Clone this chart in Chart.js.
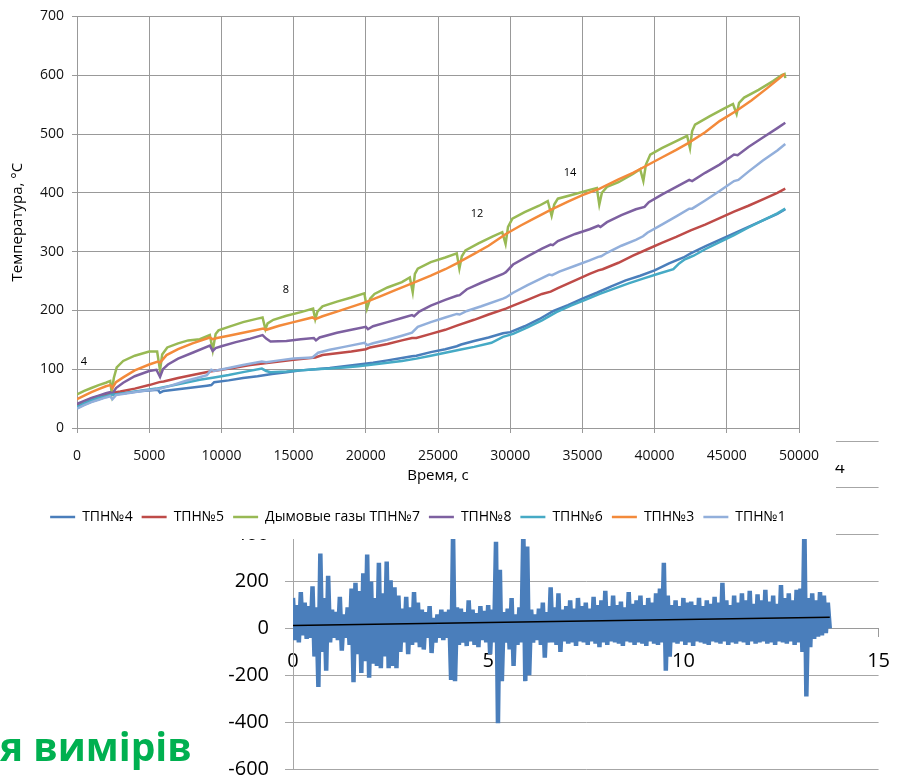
<!DOCTYPE html>
<html><head><meta charset="utf-8">
<script src="https://cdn.jsdelivr.net/npm/chart.js@4.4.1/dist/chart.umd.min.js"></script>
<style>
html,body{margin:0;padding:0;background:#fff;width:903px;height:779px;overflow:hidden;position:relative;}
#lowerCanvas{position:absolute;left:0;top:0;}
#upperCanvas{position:absolute;left:0;top:0;background:#fff;}
#greenText{position:absolute;left:0;top:719px;font:bold 39px "Open Sans";color:#00b050;white-space:nowrap;line-height:normal;}
#frag{position:absolute;left:835px;top:465px;width:10px;height:16px;overflow:hidden;}
#frag span{position:absolute;left:0;top:-10px;font:17px "Open Sans";color:#000;}
</style>
</head><body>
<canvas id="lowerCanvas" width="903" height="797"></canvas>
<canvas id="upperCanvas" width="836" height="539"></canvas>
<div id="greenText">я вимірів</div>
<div id="frag"><span>4</span></div>
<script>
// ---------- upper chart data ----------
const seriesNames = ['ТПН№4','ТПН№5','Дымовые газы ТПН№7','ТПН№8','ТПН№6','ТПН№3','ТПН№1'];
const seriesColors = ['#4a7ebb','#be4b48','#98b954','#7d60a0','#46aac5','#f38a3b','#92afdb'];

const tpn4 = [[0,34],[500,40],[1000,45],[1500,49],[2000,53],[2300,56],[2600,57],[3500,60],[4500,63],[5600,65],[5750,60],[6000,63],[7000,66],[8000,69],[9000,72],[9300,73],[9500,78],[10500,81],[11500,85],[12500,88],[13500,92],[14500,95],[15500,98],[16500,100],[17500,102],[18500,105],[19500,108],[20500,111],[21500,115],[22500,119],[23200,122],[23500,123],[24500,129],[25500,134],[26300,139],[26600,142],[27500,148],[28500,154],[29500,161],[30000,163],[31000,173],[32000,185],[33000,199],[34000,209],[35000,220],[36000,230],[37000,241],[38000,251],[39000,259],[40000,268],[41000,280],[42000,290],[42500,297],[43500,309],[44500,320],[45500,331],[46500,342],[47500,353],[48500,364],[49050,372]];
const tpn5 = [[0,39],[500,45],[1000,50],[1500,54],[2000,57],[2300,59],[3000,62],[4000,67],[5000,73],[5700,78],[6000,79],[7000,85],[8000,90],[9200,96],[10000,99],[11000,103],[12000,107],[13000,110],[14000,113],[15000,116],[16500,120],[17000,124],[18000,127],[19000,130],[20000,134],[20300,137],[21500,143],[22500,149],[23200,153],[23500,153],[24500,160],[25500,167],[26300,174],[27500,184],[28500,193],[29700,203],[30200,208],[31200,218],[32200,228],[32800,232],[33300,238],[34500,251],[35500,262],[36100,268],[36400,270],[37500,281],[38500,293],[39500,304],[40500,315],[41500,325],[42500,336],[43500,346],[44500,357],[45500,368],[46500,378],[47500,389],[48500,400],[49050,407]];
const tpn7 = [[0,57],[500,63],[1000,68],[1500,73],[2000,77],[2300,80],[2400,60],[2550,85],[2750,103],[3200,114],[4000,123],[5000,130],[5550,130],[5750,98],[5900,125],[6250,137],[7000,144],[7700,149],[8500,151],[9200,158],[9400,132],[9600,160],[9800,166],[10500,172],[11500,180],[12500,186],[12850,188],[13050,168],[13200,178],[13600,184],[14500,191],[15500,197],[16350,203],[16500,185],[16650,198],[17000,207],[18000,215],[19000,222],[19900,229],[20080,203],[20300,220],[20600,228],[21500,239],[22500,248],[23050,256],[23250,231],[23400,262],[23600,271],[24500,282],[25500,290],[26300,297],[26480,271],[26650,292],[26900,302],[27800,314],[28800,326],[29450,333],[29680,313],[29850,342],[30150,356],[31000,367],[32000,378],[32600,386],[32870,361],[33050,380],[33300,390],[34500,398],[35500,405],[36000,408],[36170,380],[36350,400],[36700,410],[37500,418],[38500,432],[39000,440],[39220,420],[39400,448],[39700,465],[40500,476],[41500,488],[42250,497],[42450,476],[42600,505],[42800,516],[43800,530],[44800,543],[45430,551],[45680,534],[45850,553],[46200,562],[47200,575],[48200,590],[48800,600],[49000,602],[49050,595]];
const tpn8 = [[0,41],[500,46],[1000,51],[1500,55],[2000,59],[2300,61],[2450,58],[2700,68],[3200,77],[4000,88],[5000,97],[5500,99],[5750,87],[5950,100],[6300,108],[7000,118],[8000,128],[9200,140],[9400,131],[9600,136],[10000,139],[11000,146],[12000,152],[12850,158],[13100,152],[13400,147],[14500,148],[15500,151],[16400,153],[16550,149],[16800,154],[18000,162],[19000,167],[20000,172],[20150,168],[20500,173],[21500,180],[22500,187],[23200,192],[23350,190],[23700,198],[24500,208],[25500,218],[26300,225],[26500,226],[27000,236],[28000,247],[29500,262],[29700,265],[30200,278],[31200,292],[32200,305],[32800,312],[32950,311],[33300,318],[34500,330],[35500,338],[36100,344],[36250,342],[36700,350],[37700,362],[38700,372],[39300,376],[39600,384],[40500,397],[41500,410],[42400,422],[42600,420],[43500,434],[44500,448],[45500,465],[45750,464],[46500,478],[47500,494],[48500,510],[49050,519]];
const tpn6 = [[0,36],[500,42],[1000,47],[1500,51],[2000,54],[2300,56],[2600,57],[3500,60],[4500,64],[5500,67],[6500,72],[7500,77],[8500,82],[9500,86],[10500,90],[11500,95],[12800,101],[13100,97],[13400,95],[14500,96],[15500,98],[16500,100],[17500,101],[18500,103],[19500,105],[20500,108],[21500,111],[22500,114],[23500,118],[24500,123],[25500,128],[26500,133],[27500,138],[28700,145],[29500,155],[30200,160],[31200,171],[32200,183],[33200,197],[34200,208],[35200,218],[36200,228],[37200,237],[38200,246],[39200,254],[40200,262],[41300,270],[41700,280],[42100,287],[42400,290],[42700,293],[43500,304],[44500,316],[45500,328],[46500,341],[47500,353],[48500,365],[49050,373]];
const tpn3 = [[0,49],[500,55],[1000,61],[1500,66],[2000,71],[2300,73],[2450,68],[2700,78],[3200,86],[4000,98],[5000,108],[5600,113],[5750,111],[6200,124],[7000,134],[8000,144],[9200,154],[9400,151],[9700,153],[10500,157],[11500,162],[12900,169],[13100,167],[14000,174],[15000,180],[16300,188],[16500,185],[17000,190],[18000,198],[19000,206],[20000,214],[21000,224],[22000,234],[23200,246],[24500,259],[25500,270],[26300,280],[27500,296],[28500,310],[29700,330],[30700,344],[31700,357],[32800,371],[34000,385],[35000,396],[36200,407],[37500,423],[38500,434],[39200,443],[40500,460],[41500,473],[42300,484],[43500,503],[44500,522],[45700,540],[46700,557],[47800,578],[49000,602]];
const tpn1 = [[0,33],[500,39],[1000,44],[1500,48],[2000,52],[2300,54],[2450,49],[2700,56],[3500,59],[4500,63],[5500,66],[5800,67],[6500,72],[7500,80],[8300,85],[9000,90],[9300,99],[9500,97],[10500,102],[11500,107],[12800,113],[13100,112],[14000,115],[15000,118],[16300,120],[16700,128],[17500,133],[18500,138],[19900,145],[20100,141],[20500,144],[21500,150],[22500,157],[23200,162],[23600,172],[24500,180],[25500,188],[26300,194],[26500,193],[27000,199],[28000,207],[29500,220],[29700,222],[30200,230],[31200,243],[32200,255],[32700,261],[32900,260],[33400,266],[34500,276],[35500,285],[36100,291],[36300,292],[36700,298],[37700,310],[38700,320],[39200,326],[39500,332],[40500,346],[41500,360],[42400,373],[42600,373],[43500,387],[44500,403],[45500,420],[45800,422],[46500,436],[47500,455],[48500,472],[49050,483]];

const annotText = ['4','8','12','14'];
const annotX = [485, 14470, 27700, 34140];
const annotY = [112, 235, 364, 434];

// ---------- lower chart data ----------
const noiseStep = 0.05;
const noiseValues = [
130,-50, 100,-60, 155,-30, 110,-45, 95,-40, 180,-120, 90,-250, 320,-100, 130,-180, 225,-60,
80,-40, 70,-50, 135,-95, 60,-40, 90,-70, 170,-230, 195,-110, 160,-190, 235,-140, 315,-210,
200,-150, 130,-160, 280,-170, 150,-120, 285,-170, 205,-160, 175,-170, 140,-100, 85,-60, 135,-110,
90,-70, 155,-60, 110,-80, 80,-90, 70,-40, 95,-105, 45,-60, 60,-40, 80,-50, 70,-40,
80,-220, 410,-225, 90,-70, 85,-60, 70,-75, 120,-55, 80,-70, 65,-80, 95,-50, 75,-60,
100,-110, 80,-60, 370,-405, 250,-225, 70,-60, 85,-90, 130,-160, 60,-70, 90,-60, 420,-225,
350,-200, 80,-60, 60,-50, 85,-70, 110,-125, 70,-60, 175,-60, 90,-70, 150,-100, 80,-55,
95,-65, 120,-60, 85,-75, 130,-55, 95,-60, 110,-70, 85,-55, 135,-65, 100,-80, 120,-60,
160,-70, 95,-55, 140,-60, 100,-65, 115,-75, 90,-55, 155,-60, 105,-70, 120,-60, 140,-65,
100,-75, 130,-55, 110,-65, 150,-70, 170,-60, 280,-180, 140,-120, 100,-60, 120,-65, 95,-55,
130,-70, 110,-60, 115,-75, 100,-55, 130,-60, 95,-65, 120,-70, 105,-55, 135,-60, 110,-65,
195,-55, 120,-70, 100,-60, 140,-65, 110,-55, 150,-60, 120,-70, 160,-55, 105,-65, 145,-60,
120,-55, 165,-65, 115,-60, 140,-70, 105,-55, 185,-60, 130,-65, 150,-55, 120,-70, 165,-60,
170,-100, 440,-290, 130,-80, 150,-45, 120,-35, 155,-30, 140,-20, 110,0
];
const trendX = [0, 13.75];
const trendY = [13, 48];

const lowerTicksY = [-600,-400,-200,0,200,400,600,800];

// ---------- lower chart ----------
new Chart(document.getElementById('lowerCanvas'), {
  type: 'line',
  data: {
    datasets: [
      { data: trendX.map((x,i)=>({x, y: trendY[i]})), borderColor:'#000', borderWidth:1.5, pointRadius:0, tension:0 },
      { data: noiseValues.map((v,i)=>({x: i*noiseStep, y: v})), borderColor:'#4a7ebb', borderWidth:4.5, pointRadius:0, tension:0 }
    ]
  },
  options: {
    responsive:false, animation:false,
    layout:{padding:{top:441, right:16, bottom:11, left:0}},
    plugins:{legend:{display:false}, tooltip:{enabled:false}},
    scales:{
      x:{ type:'linear', min:0, max:15, position:{y:0},
          ticks:{stepSize:5, font:{family:'Open Sans', size:20}, color:'#000', padding:13, callback:v=>String(v)},
          grid:{drawOnChartArea:false, drawTicks:true, tickLength:8, color:'#9a9a9a'},
          border:{color:'#9a9a9a', width:1} },
      y:{ type:'linear', min:-600, max:800,
          afterBuildTicks: s => { s.ticks = lowerTicksY.map(v=>({value:v})); },
          afterFit: s => { s.width = 293; },
          ticks:{font:{family:'Open Sans', size:20}, color:'#000', padding:16, callback:v=>String(v)},
          grid:{color:'#a6a6a6', tickLength:8, lineWidth:1},
          border:{color:'#a6a6a6', width:1} }
    }
  }
});

// ---------- upper chart ----------
const annotPlugin = {
  id:'annot',
  afterDatasetsDraw(chart){
    const {ctx, scales:{x, y}} = chart;
    ctx.save();
    ctx.font = '11px "Open Sans"';
    ctx.fillStyle = '#000';
    ctx.textAlign = 'center';
    ctx.textBaseline = 'middle';
    annotText.forEach((t,i)=>ctx.fillText(t, x.getPixelForValue(annotX[i]), y.getPixelForValue(annotY[i])));
    ctx.restore();
  }
};
const seriesData = [tpn4, tpn5, tpn7, tpn8, tpn6, tpn3, tpn1];
new Chart(document.getElementById('upperCanvas'), {
  type:'line',
  data:{
    datasets: seriesData.map((d,i)=>({
      label: seriesNames[i],
      data: d.map(p=>({x:p[0], y:p[1]})),
      borderColor: seriesColors[i], backgroundColor: seriesColors[i],
      borderWidth: 2.5, pointRadius:0, tension:0, order: 10 - i
    }))
  },
  options:{
    responsive:false, animation:false,
    layout:{padding:{top:15, right:0, bottom:5, left:0}},
    plugins:{
      tooltip:{enabled:false},
      legend:{ position:'bottom',
        labels:{ usePointStyle:true, pointStyle:'line', pointStyleWidth:25, font:{family:'Open Sans', size:14}, color:'#000', padding:9,
                 sort:(a,b)=>a.datasetIndex-b.datasetIndex } }
    },
    scales:{
      x:{ type:'linear', min:0, max:50000,
          ticks:{stepSize:5000, font:{family:'Open Sans', size:14}, color:'#111', padding:15, maxRotation:0, callback:v=>String(v)},
          grid:{color:'#999', tickLength:5},
          border:{color:'#999'},
          title:{display:true, text:'Время, с', font:{family:'Open Sans', size:15}, color:'#000', padding:{top:0, bottom:16}},
          afterFit: s => { s.height = 73; } },
      y:{ type:'linear', min:0, max:700,
          ticks:{stepSize:100, font:{family:'Open Sans', size:14}, color:'#111', padding:8, callback:v=>String(v)},
          grid:{color:'#999', tickLength:5},
          border:{color:'#999'},
          title:{display:true, text:'Температура, °С', font:{family:'Open Sans', size:15}, color:'#000', padding:{top:9, bottom:0}},
          afterFit: s => { s.width = 77; } },
      yRight:{ type:'linear', position:'right', display:true, min:0, max:700,
          ticks:{display:false}, grid:{display:false, drawTicks:false}, border:{display:false},
          afterFit: s => { s.width = 37; } }
    }
  },
  plugins:[annotPlugin]
});
</script>
</body></html>
